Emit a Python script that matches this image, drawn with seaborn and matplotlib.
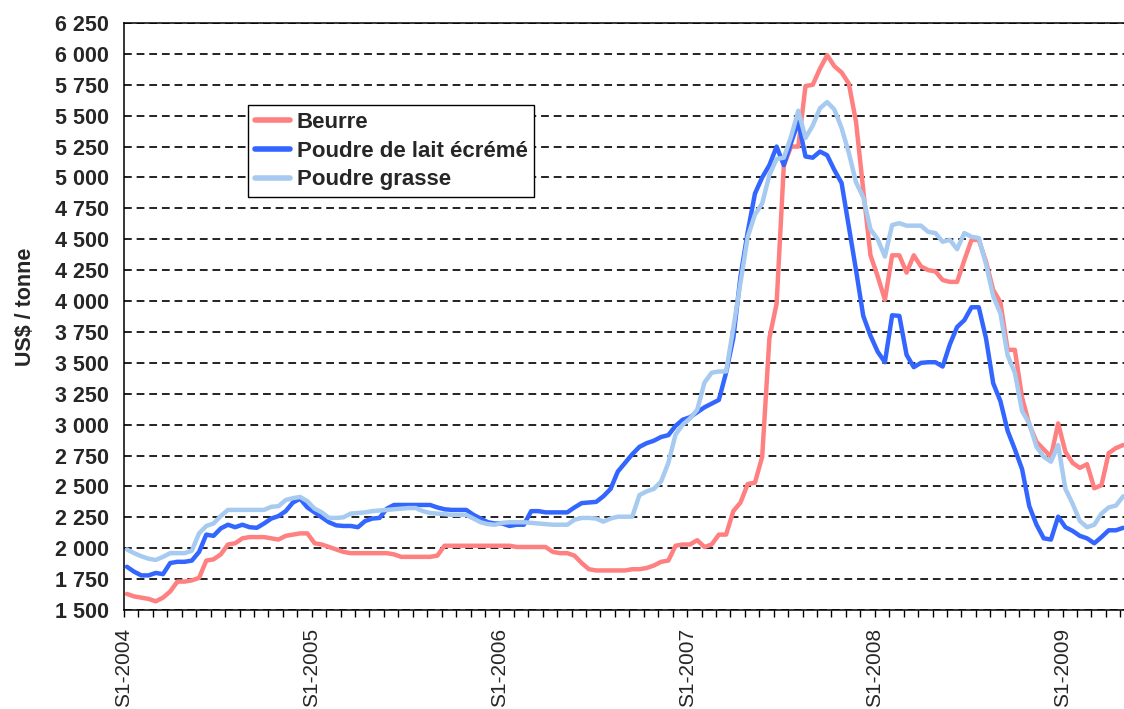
import numpy as np
import pandas as pd
import seaborn as sns
import matplotlib.pyplot as plt
from matplotlib.ticker import MultipleLocator, FuncFormatter

# bi-weekly prices, US$ / tonne, starting S1-2004
beurre = [
    1630, 1610, 1600, 1590, 1570, 1600, 1650, 1730, 1730, 1740,
    1760, 1900, 1910, 1950, 2030, 2040, 2080, 2090, 2090, 2090,
    2080, 2070, 2100, 2110, 2120, 2120, 2040, 2030, 2010, 1990,
    1970, 1960, 1960, 1960, 1960, 1960, 1960, 1950, 1930, 1930,
    1930, 1930, 1930, 1940, 2020, 2020, 2020, 2020, 2020, 2020,
    2020, 2020, 2020, 2020, 2010, 2010, 2010, 2010, 2010, 1970,
    1960, 1960, 1940, 1880, 1830, 1820, 1820, 1820, 1820, 1820,
    1830, 1830, 1840, 1860, 1890, 1900, 2020, 2030, 2030, 2065,
    2010, 2030, 2110, 2110, 2300, 2370, 2520, 2530, 2740, 3700,
    3980, 5100, 5250, 5250, 5740, 5750, 5880, 5990, 5900, 5850,
    5760, 5450, 4900, 4370, 4200, 4010, 4370, 4370, 4230, 4370,
    4280, 4250, 4240, 4170, 4155, 4155, 4330, 4495, 4495, 4320,
    4090, 3990, 3605, 3605, 3220, 3000, 2860, 2800, 2740, 3010,
    2780, 2690, 2650, 2680, 2485, 2510, 2770, 2810, 2835,
]
poudre_ecreme = [
    1850, 1810, 1780, 1780, 1800, 1790, 1880, 1890, 1890, 1900,
    1970, 2110, 2100, 2160, 2190, 2170, 2190, 2170, 2165, 2200,
    2240, 2260, 2300, 2370, 2400, 2330, 2290, 2250, 2210, 2185,
    2180, 2180, 2170, 2220, 2240, 2245, 2320, 2350, 2350, 2350,
    2350, 2350, 2350, 2330, 2315, 2310, 2310, 2310, 2270, 2240,
    2210, 2200, 2200, 2180, 2190, 2190, 2300, 2300, 2290, 2290,
    2290, 2290, 2330, 2365, 2370, 2375, 2420, 2480, 2620, 2690,
    2760, 2820, 2850, 2870, 2900, 2915, 2990, 3040, 3060, 3100,
    3140, 3170, 3200, 3420, 3700, 4200, 4560, 4870, 5000, 5100,
    5250, 5100, 5280, 5450, 5170, 5160, 5210, 5180, 5060, 4955,
    4600, 4250, 3880, 3720, 3590, 3505, 3885, 3880, 3565, 3465,
    3500, 3505, 3505, 3470, 3650, 3790, 3845, 3950, 3950, 3700,
    3335, 3190, 2950, 2800, 2640, 2340, 2190, 2080, 2070, 2255,
    2170, 2140, 2100, 2080, 2040, 2090, 2145, 2145, 2165,
]
poudre_grasse = [
    1990, 1960, 1935, 1915, 1905, 1930, 1960, 1960, 1960, 1980,
    2120, 2180, 2200, 2260, 2310, 2310, 2310, 2310, 2310, 2310,
    2335, 2340, 2390, 2405, 2415, 2380, 2320, 2290, 2245, 2245,
    2250, 2280, 2285, 2290, 2300, 2305, 2310, 2315, 2320, 2325,
    2325, 2300, 2285, 2280, 2275, 2270, 2270, 2270, 2240, 2210,
    2195, 2190, 2205, 2210, 2210, 2210, 2205, 2200, 2195, 2190,
    2190, 2190, 2230, 2245, 2245, 2240, 2215, 2240, 2255, 2255,
    2255, 2430, 2460, 2480, 2540, 2690, 2920, 3000, 3050, 3120,
    3340, 3420, 3430, 3430, 3780, 4150, 4520, 4700, 4790, 5020,
    5150, 5160, 5330, 5540, 5320, 5420, 5560, 5610, 5550, 5400,
    5200, 4960, 4840, 4580, 4500, 4360, 4615, 4630, 4610, 4610,
    4610, 4560, 4550, 4480, 4495, 4420, 4550, 4520, 4510, 4300,
    4040, 3900, 3560, 3420, 3110, 3010, 2820, 2740, 2700, 2835,
    2480, 2360, 2220, 2170, 2190, 2280, 2330, 2345, 2420,
]
years = [2004, 2005, 2006, 2007, 2008, 2009]
year_labels = ["S1-2004", "S1-2005", "S1-2006", "S1-2007", "S1-2008", "S1-2009"]
series = ["Beurre", "Poudre de lait écrémé", "Poudre grasse"]
colors = ["#FF8080", "#3366FF", "#A6CAF0"]

t = 2004 + (np.arange(len(beurre)) + 0.4) / 26
df = pd.concat([
    pd.DataFrame({"date": t, "prix": v, "produit": name})
    for name, v in zip(series, [beurre, poudre_ecreme, poudre_grasse])
])

sns.set_style("white")
plt.rcParams["font.family"] = ["Liberation Sans", "DejaVu Sans"]

fig = plt.figure(figsize=(11.24, 7.09), dpi=100)
ax = fig.add_axes([124 / 1124, 99 / 709, 1000 / 1124, 587 / 709])

sns.lineplot(data=df, x="date", y="prix", hue="produit", hue_order=series,
             palette=colors, linewidth=3.2, ax=ax, legend=False)

ax.set_xlim(2004, 2004 + 1000 / 187.7)
ax.set_ylim(1500, 6250)
ax.yaxis.set_major_locator(MultipleLocator(250))
ax.yaxis.set_major_formatter(FuncFormatter(lambda v, p: f"{int(v):,}".replace(",", " ")))
ax.set_xticks(years)
ax.set_xticklabels(year_labels, rotation=90, fontsize=15)
ax.xaxis.set_minor_locator(MultipleLocator(1 / 13))
for lab in ax.get_yticklabels():
    lab.set_fontweight("bold")
    lab.set_fontsize(15.5)

ax.tick_params(axis="both", which="both", direction="out", length=5, width=1, color="black")
ax.tick_params(axis="y", pad=6)
ax.tick_params(axis="x", which="both", bottom=True, pad=8)
ax.yaxis.grid(True, linestyle=(0, (4, 2.5)), color="#222222", linewidth=1.4)
ax.xaxis.grid(False)
ax.set_axisbelow(True)

for side in ["left", "bottom", "top"]:
    ax.spines[side].set_color("black")
    ax.spines[side].set_linewidth(1.1)
ax.spines["right"].set_visible(False)

ax.set_xlabel("")
ax.set_ylabel("US$ / tonne", fontsize=15.5, fontweight="bold")
ax.yaxis.set_label_coords(-0.088, 0.516)

handles = [plt.Line2D([], [], color=c, linewidth=4) for c in colors]
leg = ax.legend(handles, series, loc="upper left", bbox_to_anchor=(0.124, 0.86),
                borderaxespad=0, frameon=True, fancybox=False, framealpha=1,
                edgecolor="black", prop={"weight": "bold", "size": 16},
                handlelength=1.6, handletextpad=0.3, labelspacing=0.35, borderpad=0.3)
leg.get_frame().set_linewidth(1.0)

fig.savefig("out.png", dpi=100)
